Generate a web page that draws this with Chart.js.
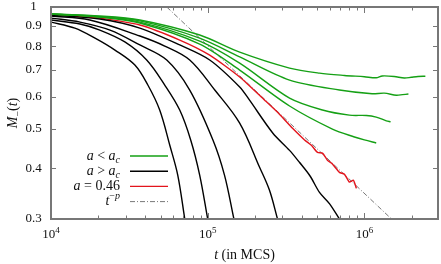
<!DOCTYPE html>
<html lang="en">
<head>
  <meta charset="UTF-8">
  <title>M_-(t) versus t</title>
  <script src="https://cdn.jsdelivr.net/npm/chart.js"></script>
  <style>
    html, body { margin: 0; padding: 0; background: #fff; }
    #chart { display: block; }
  </style>
</head>
<body>
  <canvas id="chart" width="441" height="264"></canvas>
  <script>
    // t (MCS) and M_-(t)
    const blackAT = [1e4, 1.42e4, 1.91e4, 2.56e4, 3.43e4, 4.15e4, 4.94e4, 5.73e4, 6.44e4, 7.14e4];
    const blackAM = [0.918, 0.887, 0.838, 0.783, 0.719, 0.642, 0.557, 0.456, 0.385, 0.300];
    const blackBT = [1e4, 1.53e4, 2.05e4, 2.96e4, 4.08e4, 5.32e4, 6.63e4, 7.79e4, 8.89e4, 1e5];
    const blackBM = [0.929, 0.908, 0.877, 0.820, 0.740, 0.642, 0.557, 0.470, 0.385, 0.300];
    const blackCT = [1e4, 1.53e4, 2.38e4, 3.69e4, 5.48e4, 7.68e4, 1.08e5, 1.28e5, 1.47e5];
    const blackCM = [0.939, 0.918, 0.877, 0.806, 0.740, 0.624, 0.470, 0.385, 0.300];
    const blackDT = [1e4, 1.77e4, 3.69e4, 5.32e4, 7.68e4, 1.11e5, 1.60e5, 2.14e5, 2.48e5, 2.79e5];
    const blackDM = [0.950, 0.929, 0.848, 0.801, 0.740, 0.624, 0.517, 0.403, 0.353, 0.300];
    const blackET = [1e4, 2.05e4, 3.69e4, 6.63e4, 1.03e5, 1.60e5, 1.85e5, 2.60e5, 3.33e5, 3.85e5, 4.5e5, 5.17e5, 6.0e5, 6.93e5];
    const blackEM = [0.955, 0.934, 0.887, 0.806, 0.740, 0.635, 0.589, 0.489, 0.443, 0.414, 0.383, 0.349, 0.327, 0.300];

    const redT = [1e4, 2.05e4, 3.69e4, 6.63e4, 1.03e5, 1.60e5, 2.31e5, 2.87e5, 3.48e5, 4.15e5, 4.59e5, 5.02e5, 5.40e5, 5.81e5, 6.25e5, 6.93e5, 7.46e5, 8.02e5, 8.51e5, 8.89e5];
    const redM = [0.958, 0.939, 0.903, 0.829, 0.761, 0.672, 0.589, 0.544, 0.502, 0.470, 0.456, 0.438, 0.436, 0.419, 0.410, 0.391, 0.387, 0.370, 0.374, 0.357];

    const green1T = [1e4, 2.05e4, 3.69e4, 8.89e4, 1.60e5, 3.33e5, 5.17e5, 7.46e5, 1.0e6, 1.19e6, 1.30e6, 1.55e6, 1.80e6, 1.99e6, 2.2e6, 2.45e6];
    const green1M = [0.961, 0.950, 0.929, 0.853, 0.774, 0.707, 0.687, 0.678, 0.673, 0.669, 0.676, 0.674, 0.668, 0.671, 0.674, 0.675];
    const green2T = [1e4, 2.05e4, 3.69e4, 8.89e4, 1.60e5, 3.33e5, 6.93e5, 1.12e6, 1.34e6, 1.60e6, 1.75e6, 1.91e6];
    const green2M = [0.961, 0.947, 0.924, 0.838, 0.753, 0.660, 0.624, 0.611, 0.613, 0.606, 0.608, 0.610];
    const green3T = [1e4, 2.05e4, 3.69e4, 8.89e4, 1.60e5, 3.33e5, 5.40e5, 8.02e5, 1.03e6, 1.19e6, 1.38e6, 1.47e6];
    const green3M = [0.961, 0.945, 0.918, 0.824, 0.727, 0.596, 0.557, 0.541, 0.540, 0.535, 0.524, 0.521];
    const green4T = [1e4, 2.05e4, 3.69e4, 8.89e4, 1.60e5, 3.33e5, 6.25e5, 8.64e5, 1.0e6, 1.19e6];
    const green4M = [0.961, 0.945, 0.913, 0.810, 0.699, 0.570, 0.500, 0.478, 0.470, 0.462];

    // t^-p guide line
    const powT = [5.48e4, 1.49e6];
    const powM = [1.0, 0.3];

    const yTicks = [0.3, 0.4, 0.5, 0.6, 0.7, 0.8, 0.9, 1];
    const xMajor = [1e4, 1e5, 1e6];

    const GREEN = '#15a015';
    const RED = '#e3141c';
    const FRAME = '#777777';
    const SERIF = '"Liberation Serif", "DejaVu Serif", serif';

    function pts(ts, ms) {
      return ts.map((t, i) => ({ x: t, y: ms[i] }));
    }

    function line(ts, ms, color, tension) {
      return {
        data: pts(ts, ms),
        borderColor: color,
        borderWidth: 1.4,
        pointRadius: 0,
        tension: tension,
        fill: false
      };
    }

    // draw a run of text pieces: {s, it, sub, sup}
    function rich(ctx, parts, x, y, size, align) {
      const small = Math.round(size * 0.7);
      const widths = parts.map(p => {
        const sz = (p.sub || p.sup) ? small : size;
        ctx.font = (p.it ? 'italic ' : '') + sz + 'px ' + SERIF;
        return ctx.measureText(p.s).width;
      });
      const total = widths.reduce((a, b) => a + b, 0);
      let cx = align === 'right' ? x - total : align === 'center' ? x - total / 2 : x;
      ctx.textAlign = 'left';
      parts.forEach((p, i) => {
        const sz = (p.sub || p.sup) ? small : size;
        ctx.font = (p.it ? 'italic ' : '') + sz + 'px ' + SERIF;
        const dy = p.sub ? size * 0.28 : p.sup ? -size * 0.38 : 0;
        ctx.fillText(p.s, cx, y + dy);
        cx += widths[i];
      });
    }

    const decor = {
      id: 'decor',
      afterDatasetsDraw(chart) {
        const ctx = chart.ctx;
        const a = chart.chartArea;
        const xs = chart.scales.x;
        const ys = chart.scales.y;
        ctx.save();

        // frame
        ctx.strokeStyle = FRAME;
        ctx.lineWidth = 2;
        ctx.strokeRect(a.left, a.top, a.right - a.left, a.bottom - a.top);

        // x ticks, inward on bottom and top
        ctx.lineWidth = 1;
        for (let d = 1e4; d <= 1e6; d *= 10) {
          for (let k = 1; k <= 9; k++) {
            const v = d * k;
            if (v > xs.max) break;
            const px = Math.round(xs.getPixelForValue(v)) + 0.5;
            const len = k === 1 ? 6 : 3.5;
            ctx.beginPath();
            ctx.moveTo(px, a.bottom); ctx.lineTo(px, a.bottom - len);
            ctx.moveTo(px, a.top); ctx.lineTo(px, a.top + len);
            ctx.stroke();
          }
        }
        // y ticks
        yTicks.forEach(v => {
          const py = Math.round(ys.getPixelForValue(v)) + 0.5;
          ctx.beginPath();
          ctx.moveTo(a.left, py); ctx.lineTo(a.left + 5, py);
          ctx.moveTo(a.right, py); ctx.lineTo(a.right - 5, py);
          ctx.stroke();
        });

        ctx.fillStyle = '#111';
        ctx.textBaseline = 'middle';
        // y tick labels
        ctx.font = '13px ' + SERIF;
        ctx.textAlign = 'center';
        yTicks.forEach(v => {
          ctx.fillText(String(v), 33.5, ys.getPixelForValue(v));
        });

        // x tick labels 10^n
        ctx.textBaseline = 'alphabetic';
        xMajor.forEach(v => {
          const px = xs.getPixelForValue(v);
          const n = Math.round(Math.log10(v));
          rich(ctx, [{ s: '10' }, { s: String(n), sup: true }], px, 238, 13, 'center');
        });

        // x title
        rich(ctx, [{ s: 't', it: true }, { s: ' (in MCS)' }], (a.left + a.right) / 2, 259, 14, 'center');

        // y title
        ctx.save();
        ctx.translate(17, (a.top + a.bottom) / 2);
        ctx.rotate(-Math.PI / 2);
        rich(ctx, [{ s: 'M', it: true }, { s: '\u2212', sub: true }, { s: '(' }, { s: 't', it: true }, { s: ')' }], 0, 0, 14, 'center');
        ctx.restore();

        // legend
        ctx.textBaseline = 'middle';
        const rows = [
          { parts: [{ s: 'a', it: true }, { s: ' < ' }, { s: 'a', it: true }, { s: 'c', it: true, sub: true }], color: GREEN, dash: [] },
          { parts: [{ s: 'a', it: true }, { s: ' > ' }, { s: 'a', it: true }, { s: 'c', it: true, sub: true }], color: '#000', dash: [] },
          { parts: [{ s: 'a', it: true }, { s: ' = 0.46' }], color: RED, dash: [] },
          { parts: [{ s: 't', it: true }, { s: '\u2212', sup: true }, { s: 'p', it: true, sup: true }], color: '#555', dash: [5, 2, 1, 2] }
        ];
        rows.forEach((r, i) => {
          const y = 156 + i * 15.2;
          ctx.fillStyle = '#111';
          rich(ctx, r.parts, 120, y, 14, 'right');
          ctx.strokeStyle = r.color;
          ctx.lineWidth = r.dash.length ? 0.8 : 1.4;
          ctx.setLineDash(r.dash);
          ctx.beginPath();
          ctx.moveTo(130, y); ctx.lineTo(168, y);
          ctx.stroke();
          ctx.setLineDash([]);
        });

        ctx.restore();
      }
    };

    const powLine = line(powT, powM, '#555', 0);
    powLine.borderWidth = 0.8;
    powLine.borderDash = [5, 2, 1, 2];

    new Chart(document.getElementById('chart'), {
      type: 'line',
      data: {
        datasets: [
          line(green1T, green1M, GREEN, 0.3),
          line(green2T, green2M, GREEN, 0.3),
          line(green3T, green3M, GREEN, 0.3),
          line(green4T, green4M, GREEN, 0.3),
          line(blackAT, blackAM, '#000', 0.35),
          line(blackBT, blackBM, '#000', 0.35),
          line(blackCT, blackCM, '#000', 0.35),
          line(blackDT, blackDM, '#000', 0.35),
          line(blackET, blackEM, '#000', 0.3),
          line(redT, redM, RED, 0.2),
          powLine
        ]
      },
      options: {
        responsive: false,
        animation: false,
        devicePixelRatio: 1,
        layout: { padding: { left: 51, right: 3, top: 7, bottom: 45 } },
        scales: {
          x: { type: 'logarithmic', min: 1e4, max: 2.95e6, display: false },
          y: { type: 'logarithmic', min: 0.3, max: 1, display: false }
        },
        plugins: {
          legend: { display: false },
          tooltip: { enabled: false }
        }
      },
      plugins: [decor]
    });
  </script>
</body>
</html>
